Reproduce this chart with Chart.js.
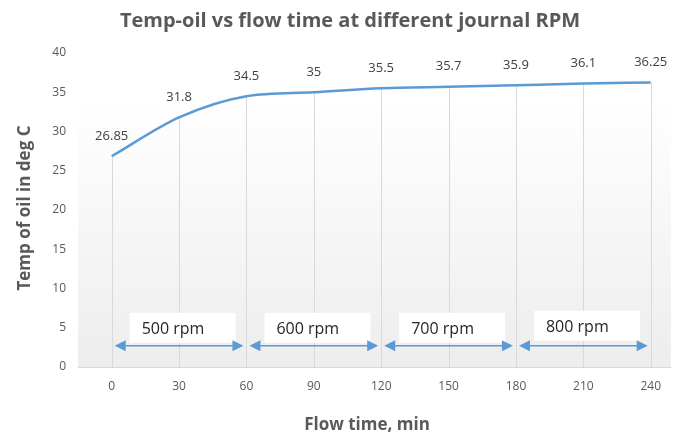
<!DOCTYPE html>
<html>
<head>
<meta charset="utf-8">
<script src="https://cdn.jsdelivr.net/npm/chart.js@4.4.0/dist/chart.umd.min.js"></script>
<style>
  html, body { margin: 0; padding: 0; background: #fff; }
  #wrap { width: 673px; height: 437px; }
</style>
</head>
<body>
<div id="wrap"><canvas id="myChart"></canvas></div>
<script>
// данные с графика
const flowTime = [0, 30, 60, 90, 120, 150, 180, 210, 240];
const tempOil = [26.85, 31.8, 34.5, 35, 35.5, 35.7, 35.9, 36.1, 36.25];
const yTicks = [0, 5, 10, 15, 20, 25, 30, 35, 40];

// интервалы оборотов
const rpmLabels = ['500 rpm', '600 rpm', '700 rpm', '800 rpm'];
const rpmFrom = [0, 60, 120, 180];
const rpmTo = [60, 120, 180, 240];

const grey = '#595959';
const blue = '#5b9bd5';
const font = '"Open Sans", sans-serif';

// фон области графика (градиент)
const bgPlugin = {
  id: 'bg',
  beforeDraw(chart) {
    const {ctx, chartArea: a} = chart;
    const g = ctx.createLinearGradient(0, a.top, 0, a.bottom);
    g.addColorStop(0, '#ffffff');
    g.addColorStop(0.15, '#ffffff');
    g.addColorStop(1, '#ededed');
    ctx.save();
    ctx.fillStyle = g;
    ctx.fillRect(a.left, a.top, a.right - a.left, a.bottom - a.top);
    ctx.restore();
  },
  // линии от точек вниз к оси
  beforeDatasetsDraw(chart) {
    const {ctx, scales: {x, y}} = chart;
    ctx.save();
    ctx.strokeStyle = '#d9d9d9';
    ctx.lineWidth = 1;
    flowTime.forEach((t, i) => {
      const px = Math.round(x.getPixelForValue(t)) + 0.5;
      ctx.beginPath();
      ctx.moveTo(px, y.getPixelForValue(tempOil[i]));
      ctx.lineTo(px, y.getPixelForValue(0));
      ctx.stroke();
    });
    ctx.restore();
  }
};

function arrowHead(ctx, x, y, dir) {
  ctx.beginPath();
  ctx.moveTo(x, y);
  ctx.lineTo(x - dir * 11, y - 5.5);
  ctx.lineTo(x - dir * 11, y + 5.5);
  ctx.closePath();
  ctx.fill();
}

const labelsPlugin = {
  id: 'labels',
  afterDatasetsDraw(chart) {
    const {ctx, scales: {x, y}} = chart;
    ctx.save();
    // подписи значений
    ctx.font = '13px ' + font;
    ctx.fillStyle = '#404040';
    ctx.textAlign = 'center';
    ctx.textBaseline = 'middle';
    tempOil.forEach((v, i) => {
      ctx.fillText(String(v), x.getPixelForValue(flowTime[i]), y.getPixelForValue(v) - 20);
    });

    // стрелки и подписи rpm
    const ay = y.getPixelForValue(2.7);
    rpmLabels.forEach((lbl, i) => {
      const x1 = x.getPixelForValue(rpmFrom[i]) + 3;
      const x2 = x.getPixelForValue(rpmTo[i]) - 3;
      const bx = x1 + 15, bw = 106, by = ay - 33 - (i === 3 ? 2 : 0), bh = 30;
      ctx.fillStyle = '#ffffff';
      ctx.fillRect(bx, by, bw, bh);
      ctx.strokeStyle = blue;
      ctx.fillStyle = blue;
      ctx.lineWidth = 1.5;
      ctx.beginPath();
      ctx.moveTo(x1 + 8, ay);
      ctx.lineTo(x2 - 8, ay);
      ctx.stroke();
      arrowHead(ctx, x1, ay, -1);
      arrowHead(ctx, x2, ay, 1);
      ctx.fillStyle = '#262626';
      ctx.font = '16px ' + font;
      ctx.textAlign = 'left';
      ctx.fillText(lbl, bx + 12, by + bh / 2 + 2);
    });

    // заголовки
    ctx.fillStyle = grey;
    ctx.textAlign = 'center';
    ctx.font = 'bold 20px ' + font;
    ctx.fillText('Temp-oil vs flow time at different journal RPM', 350, 21);
    ctx.font = 'bold 17px ' + font;
    ctx.fillText('Flow time, min', 367, 425);
    ctx.translate(25, 208);
    ctx.rotate(-Math.PI / 2);
    ctx.fillText('Temp of oil in deg C', 0, 0);
    ctx.restore();
  }
};

const ctx = document.getElementById('myChart').getContext('2d');
const myChart = new Chart(ctx, {
  type: 'line',
  data: {
    datasets: [{
      label: 'Temp of oil',
      data: flowTime.map((t, i) => ({x: t, y: tempOil[i]})),
      borderColor: blue,
      borderWidth: 2.5,
      pointRadius: 0,
      tension: 0.4,
      cubicInterpolationMode: 'monotone',
      fill: false
    }]
  },
  options: {
    responsive: true,
    maintainAspectRatio: false,
    animation: false,
    layout: { padding: { top: 53, right: 0, bottom: 0, left: 0 } },
    plugins: {
      legend: { display: false },
      tooltip: { enabled: false }
    },
    scales: {
      x: {
        type: 'linear',
        min: -15,
        max: 249,
        grid: { display: false, drawTicks: false },
        border: { display: true, color: '#d9d9d9' },
        afterBuildTicks: s => { s.ticks = flowTime.map(v => ({value: v})); },
        afterFit: s => { s.height = 70; },
        ticks: { color: grey, font: { family: font, size: 12 }, padding: 12, maxRotation: 0 }
      },
      y: {
        min: 0,
        max: 40,
        grid: { display: false, drawTicks: false },
        border: { display: false },
        afterBuildTicks: s => { s.ticks = yTicks.map(v => ({value: v})); },
        afterFit: s => { s.width = 78; },
        ticks: { color: grey, font: { family: font, size: 12 }, padding: 12 }
      }
    }
  },
  plugins: [bgPlugin, labelsPlugin]
});
</script>
</body>
</html>
